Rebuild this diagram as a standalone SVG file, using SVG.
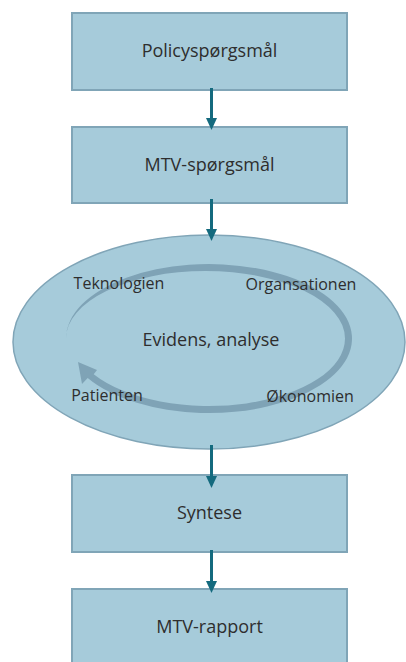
<svg xmlns="http://www.w3.org/2000/svg" width="406" height="662" viewBox="0 0 406 662">
<defs>
<style>
.box{fill:#a6cbda;stroke:#80a5b7;stroke-width:2}
.ell{fill:#a6cbda;stroke:#80a5b7;stroke-width:1.5}
.ring{fill:#7fa3b6}
.t{font-family:"Open Sans","Liberation Sans",sans-serif;fill:#2e2e2e;text-anchor:middle}
.big{font-size:18px}
.sm{font-size:16px}
.ln{stroke:#146a7e;stroke-width:3;fill:none}
.hd{fill:#146a7e}
</style>
</defs>
<rect width="406" height="662" fill="#ffffff"/>
<g id="n1">
<rect class="box" x="72" y="13" width="275" height="77"/>
<text class="t big" x="209.5" y="57">Policyspørgsmål</text>
</g>
<g id="n2">
<rect class="box" x="72" y="127" width="275" height="76"/>
<text class="t big" x="209.5" y="171">MTV-spørgsmål</text>
</g>
<g id="n3">
<ellipse class="ell" cx="209" cy="342" rx="196" ry="107"/>
<path class="ring" d="M 66 338.5 A 143 74.5 0 1 1 87.7 378 L 82 384 L 78 362 L 97 370 L 93.7 374.3 A 136 67.5 0 0 0 345 338.5 A 139.5 67.5 0 0 0 66 338.5 Z"/>
<text class="t big" x="211" y="346">Evidens, analyse</text>
<text class="t sm" x="119" y="289">Teknologien</text>
<text class="t sm" x="301" y="290">Organsationen</text>
<text class="t sm" x="107" y="401">Patienten</text>
<text class="t sm" x="310" y="402">Økonomien</text>
</g>
<g id="n4">
<rect class="box" x="72" y="475" width="275" height="77"/>
<text class="t big" x="209.5" y="519">Syntese</text>
</g>
<g id="n5">
<rect class="box" x="72" y="589" width="275" height="77"/>
<text class="t big" x="209.5" y="633">MTV-rapport</text>
</g>
<g id="connectors">
<line class="ln" x1="211.5" y1="88" x2="211.5" y2="120"/>
<polygon class="hd" points="206,118 217,118 211.5,130"/>
<line class="ln" x1="211.5" y1="199" x2="211.5" y2="232"/>
<polygon class="hd" points="206,229 217,229 211.5,241"/>
<line class="ln" x1="211.5" y1="445" x2="211.5" y2="478"/>
<polygon class="hd" points="206,476 217,476 211.5,488"/>
<line class="ln" x1="211.5" y1="550" x2="211.5" y2="584"/>
<polygon class="hd" points="206,581 217,581 211.5,593"/>
</g>
</svg>
